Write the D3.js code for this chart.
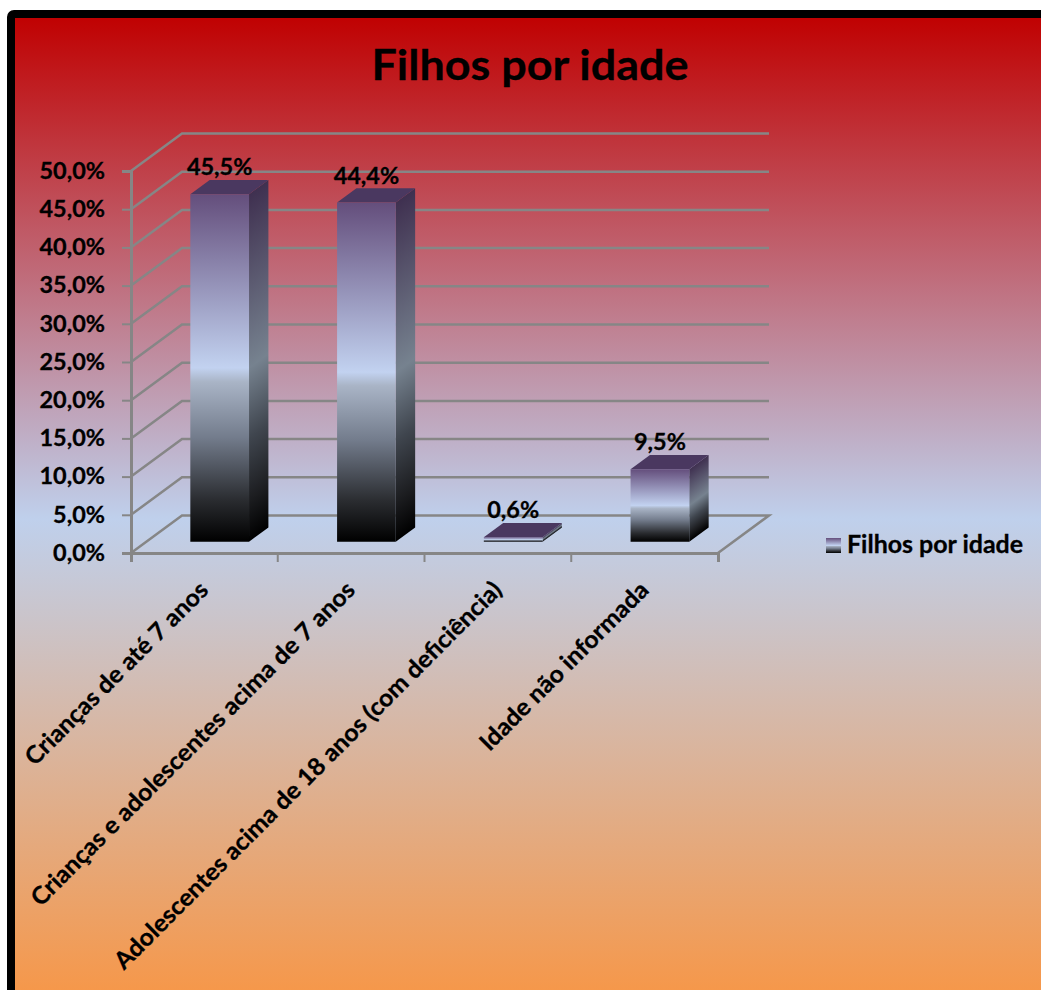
<!DOCTYPE html>
<html>
<head>
<meta charset="utf-8">
<script src="https://cdn.jsdelivr.net/npm/d3@7"></script>
<style>
  html, body { margin: 0; padding: 0; background: #fff; overflow: hidden; }
  text { font-family: Lato, "Open Sans", sans-serif; font-weight: 700; fill: #000; stroke: #000; stroke-width: 0.3px; }
</style>
</head>
<body>
<div id="chart"></div>
<script>
// Chart data
var categories = ["Crianças de até 7 anos", "Crianças e adolescentes acima de 7 anos", "Adolescentes acima de 18 anos (com deficiência)", "Idade não informada"];
var values = [45.5, 44.4, 0.6, 9.5];
var valueLabels = ["45,5%", "44,4%", "0,6%", "9,5%"];
var yTicks = [0, 5, 10, 15, 20, 25, 30, 35, 40, 45, 50];
var seriesName = "Filhos por idade";

var width = 1041, height = 990;

var svg = d3.select("#chart").append("svg")
    .attr("width", width)
    .attr("height", height);

var defs = svg.append("defs");

var frontStops = [[0, "#644e7c"], [0.5, "#c2d2f0"], [0.54, "#a9b4c6"], [0.7, "#737c8c"], [0.88, "#2a2c30"], [1, "#000000"]];
var sideStops = [[0, "#3f3050"], [0.5, "#76828f"], [0.7, "#40464f"], [0.88, "#1c1d20"], [1, "#000000"]];

function addStops(g, stops) {
  stops.forEach(function(s) {
    g.append("stop").attr("offset", s[0]).attr("stop-color", s[1]);
  });
}
function addGradient(id, stops) {
  var g = defs.append("linearGradient").attr("id", id)
      .attr("x1", 0).attr("y1", 0).attr("x2", 0).attr("y2", 1);
  addStops(g, stops);
}
addGradient("bg", [[0, "#c00000"], [0.51, "#bfd0ec"], [1, "#f79646"]]);
addGradient("front", frontStops);

// Card with thick black border
svg.append("rect")
    .attr("x", 11).attr("y", 14)
    .attr("width", 1100).attr("height", 990)
    .attr("rx", 3)
    .attr("fill", "url(#bg)")
    .attr("stroke", "#000")
    .attr("stroke-width", 8);

svg.append("text")
    .attr("text-anchor", "middle")
    .attr("transform", "translate(530,80) scale(1.07,1)")
    .style("font-size", "42px")
    .text(seriesName);

// Scales: x along the floor, y up the wall, depth into the picture
var x = d3.scaleBand().domain(categories).range([131, 718]).paddingInner(0.6).paddingOuter(0.3);
var y = d3.scaleLinear().domain([0, 50]).range([553, 171]);
var depthX = d3.scaleLinear().domain([0, 1]).range([0, 51]);
var depthY = d3.scaleLinear().domain([0, 1]).range([0, -37.5]);

var barDepthFront = 0.3, barDepthBack = 0.68;
var gridColor = "#868686";

// Wall grid lines
var line = d3.line();
svg.append("g").selectAll("path")
    .data(yTicks.filter(function(d) { return d > 0; }))
    .join("path")
    .attr("d", function(d) {
      return line([[131, y(d)], [131 + depthX(1), y(d) + depthY(1)], [769, y(d) + depthY(1)]]);
    })
    .attr("fill", "none")
    .attr("stroke", gridColor)
    .attr("stroke-width", 2.5);

// Floor
svg.append("path")
    .attr("d", line([[131, y(0)], [131 + depthX(1), y(0) + depthY(1)], [769, y(0) + depthY(1)], [718, y(0)]]))
    .attr("fill", "none")
    .attr("stroke", gridColor)
    .attr("stroke-width", 2.5);

// Axes
var yAxis = d3.axisLeft(y)
    .tickValues(yTicks)
    .tickSize(9)
    .tickFormat(function(d) { return d3.format(".1f")(d).replace(".", ",") + "%"; });

var yG = svg.append("g").attr("transform", "translate(131,0)").call(yAxis);
yG.selectAll("path").attr("stroke", gridColor).attr("stroke-width", 3);
yG.selectAll("line").attr("stroke", gridColor).attr("stroke-width", 2);
yG.selectAll("text")
    .attr("x", 0)
    .attr("transform", "translate(-26,0) scale(1.02,1)")
    .style("font-size", "23px");

var xAxis = d3.axisBottom(x).tickSize(9);
var xG = svg.append("g").attr("transform", "translate(0,553)").call(xAxis);
xG.selectAll("path").attr("stroke", gridColor).attr("stroke-width", 3);
// tick marks sit between the categories
xG.selectAll("line")
    .attr("x1", x.step() / 2).attr("x2", x.step() / 2)
    .attr("stroke", gridColor).attr("stroke-width", 2);
xG.append("line")
    .attr("x1", 131).attr("x2", 131).attr("y1", 0).attr("y2", 9)
    .attr("stroke", gridColor).attr("stroke-width", 2);
xG.selectAll(".tick text")
    .attr("y", 0)
    .attr("text-anchor", "end")
    .attr("dy", "0.5em")
    .attr("transform", "translate(-3,30) rotate(-45) scale(1.04,1)")
    .style("font-size", "24px");

// Bars
var bars = categories.map(function(c, i) { return { name: c, value: values[i], label: valueLabels[i], id: i }; });

function corner(d, right, depth, v) {
  return [x(d.name) + (right ? x.bandwidth() : 0) + depthX(depth), y(v) + depthY(depth)];
}

// side faces get their own gradient, sheared along the depth direction
var sideSlope = (depthY(barDepthBack) - depthY(barDepthFront)) / (depthX(barDepthBack) - depthX(barDepthFront));
bars.forEach(function(d) {
  var p0 = corner(d, 1, barDepthFront, d.value), p1 = corner(d, 1, barDepthFront, 0);
  var g = defs.append("linearGradient").attr("id", "side" + d.id)
      .attr("gradientUnits", "userSpaceOnUse")
      .attr("x1", p0[0]).attr("y1", p0[1]).attr("x2", p1[0]).attr("y2", p1[1])
      .attr("gradientTransform", "matrix(1," + sideSlope + ",0,1,0," + (-sideSlope * p0[0]) + ")");
  addStops(g, sideStops);
});

var bar = svg.append("g").selectAll("g")
    .data(bars)
    .join("g");

bar.append("path") // side face
    .attr("d", function(d) {
      return line([corner(d, 1, barDepthFront, d.value), corner(d, 1, barDepthBack, d.value),
                   corner(d, 1, barDepthBack, 0), corner(d, 1, barDepthFront, 0)]) + "Z";
    })
    .attr("fill", function(d) { return "url(#side" + d.id + ")"; });

bar.append("path") // top face
    .attr("d", function(d) {
      return line([corner(d, 0, barDepthFront, d.value), corner(d, 1, barDepthFront, d.value),
                   corner(d, 1, barDepthBack, d.value), corner(d, 0, barDepthBack, d.value)]) + "Z";
    })
    .attr("fill", "#4a3860");

bar.append("path") // front face
    .attr("d", function(d) {
      return line([corner(d, 0, barDepthFront, d.value), corner(d, 1, barDepthFront, d.value),
                   corner(d, 1, barDepthFront, 0), corner(d, 0, barDepthFront, 0)]) + "Z";
    })
    .attr("fill", "url(#front)");

bar.append("text")
    .attr("text-anchor", "middle")
    .attr("transform", function(d) {
      var tx = x(d.name) + x.bandwidth() / 2 + depthX(barDepthFront);
      var ty = y(d.value) + depthY(barDepthFront) - 19;
      return "translate(" + tx + "," + ty + ") scale(1.02,1)";
    })
    .style("font-size", "23px")
    .text(function(d) { return d.label; });

// Legend
var legend = svg.append("g").attr("transform", "translate(826,538)");
legend.append("rect").attr("width", 15).attr("height", 15).attr("fill", "url(#front)");
legend.append("text")
    .attr("transform", "translate(21,15) scale(1.04,1)")
    .style("font-size", "24px")
    .text(seriesName);
</script>
</body>
</html>
